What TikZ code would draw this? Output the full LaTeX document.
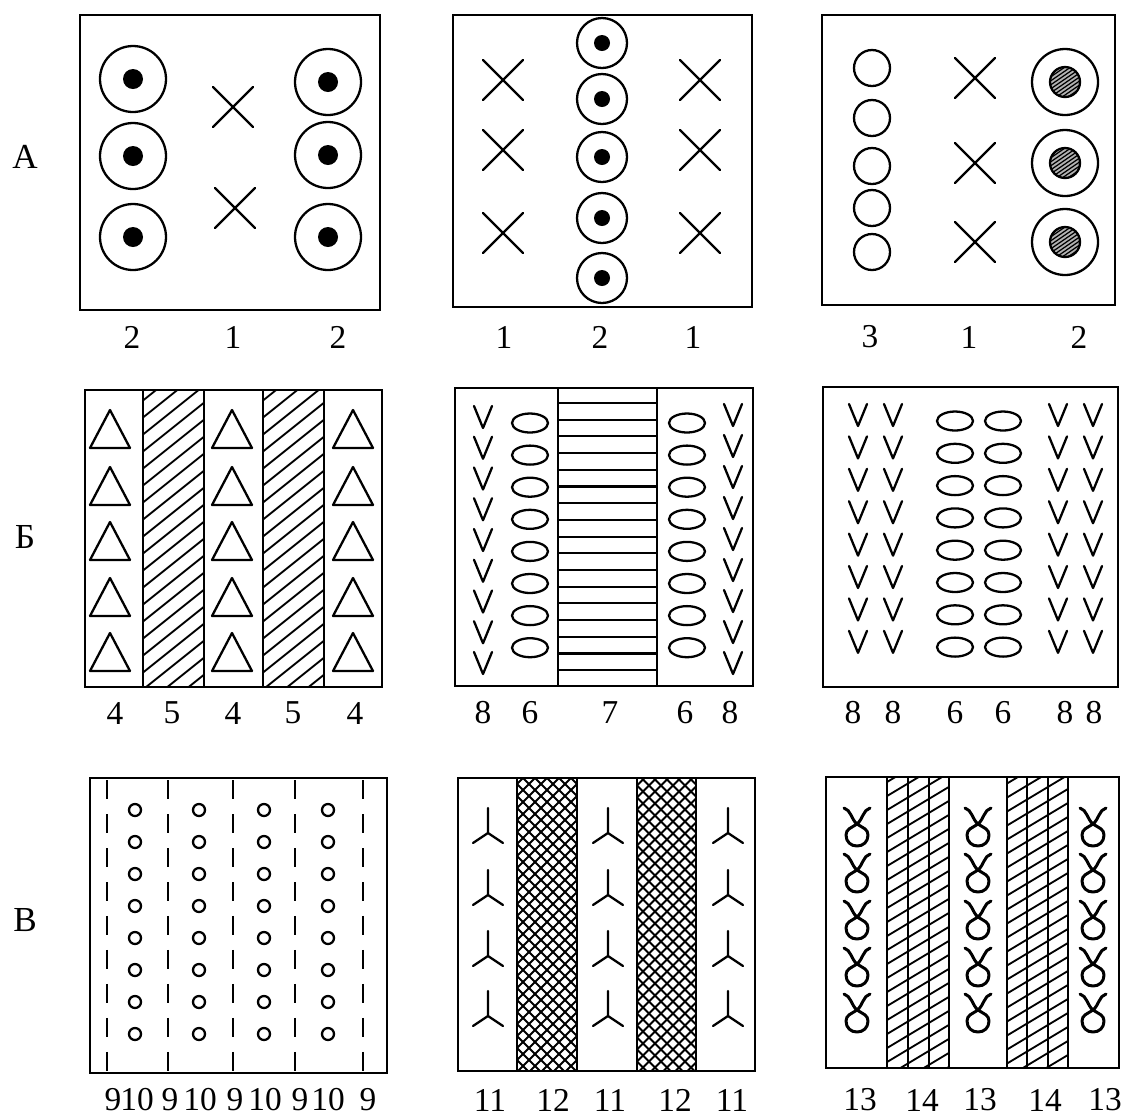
\documentclass[tikz,border=0pt]{standalone}
\usepackage{fontspec}
\setmainfont{Liberation Serif}
\usetikzlibrary{calc}
\tikzset{
 frame/.style={line width=1.6pt},
 symline/.style={line width=1.3pt, line cap=round, line join=round},
 hatchline/.style={line width=1.05pt},
 dashline/.style={line width=1.5pt, dash pattern=on 0.38cm off 0.3cm},
 lab/.style={font=\fontsize{19}{19}\selectfont, inner sep=0pt},
 rowlab/.style={font=\fontsize{20}{20}\selectfont, inner sep=0pt},
 pics/xcross/.style={code={\draw[symline] (-20,-20) -- (20,20) (-20,20) -- (20,-20);}},
 pics/ringdot/.style 2 args={code={\draw[symline] (0,0) circle[radius=#1]; \fill (0,0) circle[radius=#2];}},
 pics/hollow/.style={code={\draw[symline] (0,0) circle[radius=#1];}},
 pics/hatchring/.style={code={
   \draw[symline] (0,0) circle[radius=33];
   \begin{scope}
    \clip (0,0) circle[radius=15];
    \fill[black!30] (0,0) circle[radius=15];
    \foreach \k in {0,...,17} \draw[line width=0.7pt] (-16,{-28+\k*4}) -- ++(32,-22);
   \end{scope}
   \draw[symline] (0,0) circle[radius=15];}},
 pics/tri/.style={code={\draw[symline] (0,-20) -- (20,18) -- (-20,18) -- cycle;}},
 pics/vee/.style={code={\draw[symline] (-9,-11) -- (0,11) -- (9,-11);}},
 pics/oval/.style={code={\draw[symline] (0,0) ellipse[x radius=18, y radius=9.5];}},
 pics/tripod/.style={code={\draw[symline] (0,-25) -- (0,0) (-15,10) -- (0,0) -- (15,10);}},
 pics/tinyring/.style={code={\draw[symline] (0,0) circle[radius=6];}},
 pics/hornloop/.style={code={\draw[symline, line width=1.7pt]
   (-13,-19) .. controls (-6,-17) and (-6,-8) .. (0,-3)
   .. controls (6,1) and (11,2) .. (11,8)
   .. controls (11,15) and (6,19) .. (0,19)
   .. controls (-6,19) and (-11,15) .. (-11,8)
   .. controls (-11,2) and (-6,1) .. (0,-3)
   .. controls (6,-8) and (6,-17) .. (13,-19);}}
}
% left, right, top, bottom, gap, slope
\newcommand{\hatchband}[6]{%
 \begin{scope}
  \clip (#1,#3) rectangle (#2,#4);
  \foreach \k in {0,...,45}
   \draw[hatchline] (#1,{#3+\k*#5-1.5*(#2-#1)}) -- ++({#2-#1},{-(#6)*(#2-#1)});
 \end{scope}}

\begin{document}
\begin{tikzpicture}[x=0.02cm, y=-0.02cm]
\useasboundingbox (0,0) rectangle (1121,1117);

% row A
\node[rowlab] (rowA) at (25,157) {А};
\foreach \yy in {79,156,237} \pic at (133,\yy) {ringdot={33}{10}};
\foreach \yy in {82,155,237} \pic at (328,\yy) {ringdot={33}{10}};
\pic at (233,107) {xcross};
\pic at (235,208) {xcross};
\draw[frame] (80,15) rectangle (380,310);

\foreach \yy in {43,99,157,218,278} \pic at (602,\yy) {ringdot={25}{8}};
\foreach \yy in {80,150,233} {\pic at (503,\yy) {xcross}; \pic at (700,\yy) {xcross};}
\draw[frame] (453,15) rectangle (752,307);

\foreach \yy in {68,118,166,208,252} \pic at (872,\yy) {hollow=18};
\foreach \yy in {78,163,242} \pic at (975,\yy) {xcross};
\foreach \yy in {82,163,242} \pic at (1065,\yy) {hatchring};
\draw[frame] (822,15) rectangle (1115,305);

\foreach \t/\xx [count=\i] in {2/132,1/233,2/338,1/504,2/600,1/693,3/870,1/969,2/1079}
 \node[lab] (numA\i) at (\xx,337) {\t};

% row B
\node[rowlab] (rowB) at (25,537) {Б};
\hatchband{143}{204}{390}{687}{17}{0.8}
\hatchband{263}{324}{390}{687}{17}{0.8}
\foreach \xx in {110,232,353}
 \foreach \yy in {430,487,542,598,653} \pic at (\xx,\yy) {tri};
\draw[frame] (85,390) rectangle (382,687);
\foreach \xx in {143,204,263,324} \draw[frame] (\xx,390) -- (\xx,687);

\foreach \k in {0,...,16} \draw[line width=1.2pt] (558,{403+16.7*\k}) -- (657,{403+16.7*\k});
\foreach \k in {0,...,8} {\pic at (483,{417+30.75*\k}) {vee}; \pic at (733,{415+31*\k}) {vee};}
\foreach \k in {0,...,7} {\pic at (530,{423+32.1*\k}) {oval}; \pic at (687,{423+32.1*\k}) {oval};}
\draw[frame] (455,388) rectangle (753,686);
\foreach \xx in {558,657} \draw[frame] (\xx,388) -- (\xx,686);

\foreach \xx in {858,893,1058,1093}
 \foreach \k in {0,...,7} \pic at (\xx,{415+32.4*\k}) {vee};
\foreach \xx in {955,1003}
 \foreach \k in {0,...,7} \pic at (\xx,{421+32.3*\k}) {oval};
\draw[frame] (823,387) rectangle (1118,687);

\foreach \t/\xx [count=\i] in {4/115,5/172,4/233,5/293,4/355,8/483,6/530,7/610,6/685,8/730,8/853,8/893,6/955,6/1003,8/1065,8/1094}
 \node[lab] (numB\i) at (\xx,713) {\t};

% row V
\node[rowlab] (rowV) at (25,920) {В};
\foreach \xx in {107,168,233,295,363} \draw[dashline] (\xx,780) -- (\xx,1071);
\foreach \xx in {135,199,264,328}
 \foreach \k in {0,...,7} \pic at (\xx,{810+32*\k}) {tinyring};
\draw[frame] (90,778) rectangle (387,1073);

\hatchband{517}{577}{778}{1071}{12}{1}
\hatchband{517}{577}{778}{1071}{12}{-1}
\hatchband{637}{696}{778}{1071}{12}{1}
\hatchband{637}{696}{778}{1071}{12}{-1}
\foreach \xx in {488,608,728}
 \foreach \yy in {833,895,956,1016} \pic at (\xx,\yy) {tripod};
\draw[frame] (458,778) rectangle (755,1071);
\foreach \xx in {517,577,637,696} \draw[frame] (\xx,778) -- (\xx,1071);

\hatchband{887}{949}{777}{1068}{14}{0.6}
\hatchband{1007}{1068}{777}{1068}{14}{0.6}
\foreach \xx in {857,978,1093}
 \foreach \yy in {827,873,920,967,1013} \pic at (\xx,\yy) {hornloop};
\draw[frame] (826,777) rectangle (1119,1068);
\foreach \xx in {887,908,929,949,1007,1027,1048,1068} \draw[frame] (\xx,777) -- (\xx,1068);

\foreach \t/\xx [count=\i] in {9/113,10/137,9/170,10/200,9/235,10/265,9/300,10/328,9/368,11/490,12/553,11/610,12/675,11/732,13/860,14/922,13/980,14/1045,13/1105}
 \node[lab] (numV\i) at (\xx,1100) {\t};
\end{tikzpicture}
\end{document}
